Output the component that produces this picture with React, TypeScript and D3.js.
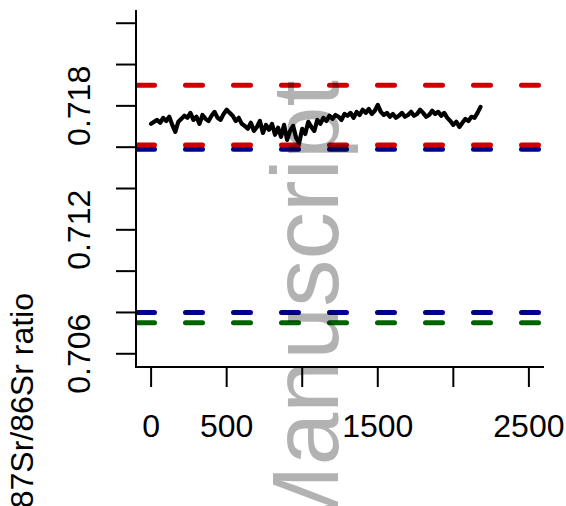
import React from "react";
import * as d3 from "d3";

const xs: number[] = d3.range(0, 2181, 20);
const ratio: number[] = [
  0.71713, 0.71723, 0.71732, 0.71718, 0.71742, 0.71727, 0.71747, 0.71708, 0.71674, 0.71723, 0.71737,
  0.71752, 0.71742, 0.71766, 0.71732, 0.71747, 0.71713, 0.71756, 0.71737, 0.71727, 0.71752, 0.71771, 0.71742, 0.71732, 0.71761, 0.71781,
  0.71766, 0.71752, 0.71727, 0.71742, 0.71713, 0.71703, 0.71689, 0.71718, 0.71679, 0.71698, 0.71727, 0.71669, 0.71708, 0.71684, 0.71713,
  0.7166, 0.71694, 0.7165, 0.71708, 0.71635, 0.71679, 0.71703, 0.71645, 0.71621, 0.71689, 0.71664, 0.71723, 0.71698, 0.71679, 0.71732,
  0.71713, 0.71742, 0.71727, 0.71752, 0.71737, 0.71756, 0.71747, 0.71732, 0.71761, 0.71752, 0.71766, 0.71742, 0.71771, 0.71756, 0.71781,
  0.71766, 0.71785, 0.71761, 0.71776, 0.71805, 0.71771, 0.71756, 0.71766, 0.71747, 0.71761, 0.71742, 0.71752, 0.71766, 0.71747, 0.71756,
  0.71771, 0.71752, 0.71761, 0.71781, 0.71766, 0.71747, 0.71756, 0.71776, 0.71761, 0.71771, 0.71752, 0.71766, 0.71742, 0.71727, 0.71708,
  0.71723, 0.71698, 0.71718, 0.71737, 0.71727, 0.71747, 0.71742, 0.71766, 0.71795,
];

const refValues: number[] = [0.708, 0.7075, 0.7159, 0.7161, 0.719];
const refColors: string[] = ["#00008B", "#006400", "#00008B", "#CD0000", "#CD0000"];

const yTicks: number[] = [0.706, 0.708, 0.71, 0.712, 0.714, 0.716, 0.718, 0.72, 0.722];
const yTickLabels: number[] = [0.706, 0.712, 0.718];
const xTicks: number[] = [0, 500, 1000, 1500, 2000, 2500];
const xTickLabels: number[] = [0, 500, 1500, 2500];

const FONT = "'Liberation Sans', Arial, Helvetica, sans-serif";

export default function App() {
  const W = 566, H = 506;
  const left = 136, right = 544, top = 10, bottom = 367;
  const x = d3.scaleLinear().domain([-100, 2600]).range([left, right]);
  const y = d3.scaleLinear().domain([0.70536, 0.72264]).range([bottom, top]);
  const line = d3
    .line<number>()
    .x((_, i) => x(xs[i]))
    .y((d) => y(d));

  return (
    <svg
      width={W}
      height={H}
      style={{ position: "absolute", left: 0, top: 0, background: "#fff" }}
      fontFamily={FONT}
    >
      <rect x={0} y={0} width={W} height={H} fill="#fff" />
      {refValues.map((v, i) => (
        <line
          key={"r" + i}
          x1={left + 1.5}
          x2={right}
          y1={y(v)}
          y2={y(v)}
          stroke={refColors[i]}
          strokeWidth={5}
          strokeDasharray="17 31"
          strokeLinecap="round"
        />
      ))}
      <path
        d={line(ratio) || ""}
        fill="none"
        stroke="#000"
        strokeWidth={4.2}
        strokeLinejoin="round"
        strokeLinecap="round"
      />
      <path
        d={`M${left},${top}V${bottom}H${right}`}
        fill="none"
        stroke="#000"
        strokeWidth={2}
      />
      {yTicks.map((t) => (
        <line key={"yt" + t} x1={left - 20} x2={left} y1={y(t)} y2={y(t)} stroke="#000" strokeWidth={2} />
      ))}
      {yTickLabels.map((t) => (
        <text
          key={"yl" + t}
          transform={`translate(90,${y(t)}) rotate(-90)`}
          textAnchor="middle"
          fontSize={32}
          fill="#000"
        >
          {t.toFixed(3)}
        </text>
      ))}
      {xTicks.map((t) => (
        <line key={"xt" + t} x1={x(t)} x2={x(t)} y1={bottom} y2={bottom + 20} stroke="#000" strokeWidth={2} />
      ))}
      {xTickLabels.map((t) => (
        <text key={"xl" + t} x={x(t)} y={437} textAnchor="middle" fontSize={32} fill="#000">
          {t}
        </text>
      ))}
      <text transform="translate(33,293) rotate(-90)" textAnchor="end" fontSize={32} fill="#000">
        87Sr/86Sr ratio
      </text>
      <text
        transform="translate(338,80) rotate(-90)"
        textAnchor="end"
        fontSize={95}
        fill="#000"
        fillOpacity={0.3}
      >
        Manuscript
      </text>
    </svg>
  );
}
